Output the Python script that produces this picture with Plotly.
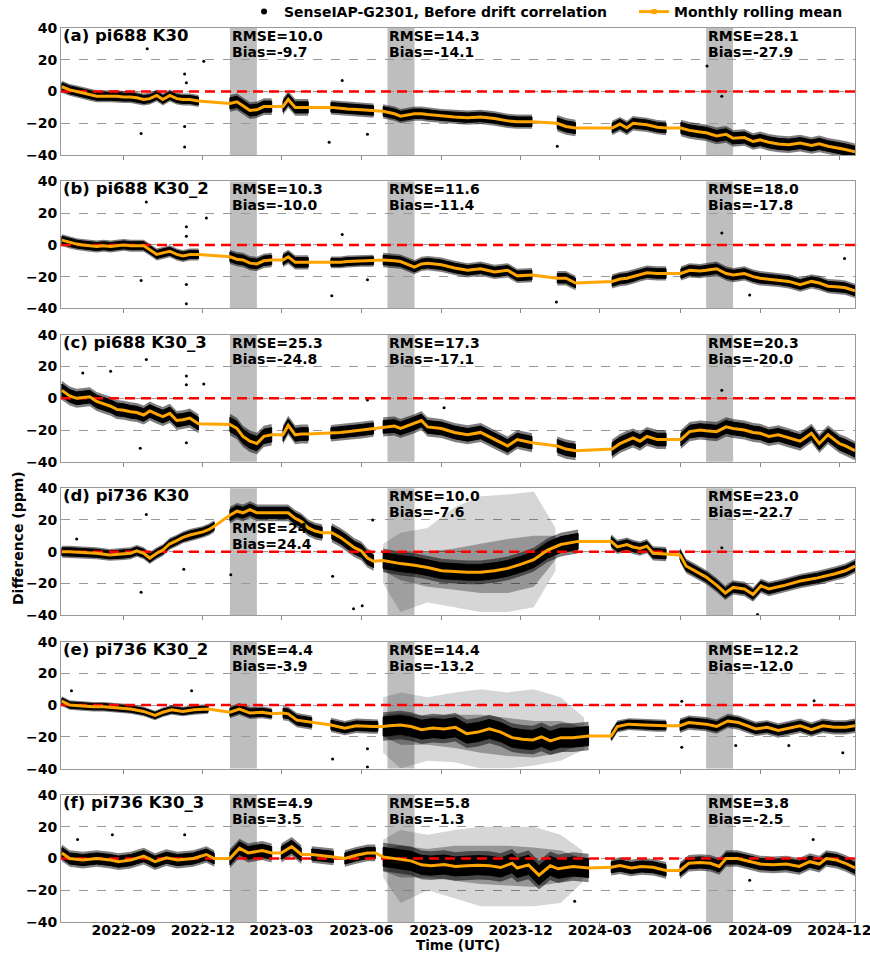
import plotly.graph_objects as go
from plotly.subplots import make_subplots

# ---------------- text / labels ----------------
panel_labels = ["(a) pi688 K30", "(b) pi688 K30_2", "(c) pi688 K30_3",
                "(d) pi736 K30", "(e) pi736 K30_2", "(f) pi736 K30_3"]
rmse_vals = [["10.0", "14.3", "28.1"], ["10.3", "11.6", "18.0"], ["25.3", "17.3", "20.3"],
             ["24", "10.0", "23.0"], ["4.4", "14.4", "12.2"], ["4.9", "5.8", "3.8"]]
bias_vals = [["-9.7", "-14.1", "-27.9"], ["-10.0", "-11.4", "-17.8"], ["-24.8", "-17.1", "-20.0"],
             ["24.4", "-7.6", "-22.7"], ["-3.9", "-13.2", "-12.0"], ["3.5", "-1.3", "-2.5"]]
shade_start = ["2023-01-01", "2023-07-01", "2024-07-01"]
shade_end = ["2023-02-01", "2023-08-01", "2024-08-01"]

# ---------------- pi688 sensors (a, b, c): data segments ----------------
g1_dates = [
    ["2022-06-22", "2022-07-01", "2022-07-09", "2022-07-16", "2022-07-24", "2022-08-01", "2022-08-09",
     "2022-08-17", "2022-08-24", "2022-09-01", "2022-09-09", "2022-09-16", "2022-09-24", "2022-10-01",
     "2022-10-09", "2022-10-16", "2022-10-24", "2022-11-01", "2022-11-08", "2022-11-16", "2022-11-26"],
    ["2023-01-01", "2023-01-09", "2023-01-16", "2023-01-24", "2023-02-01", "2023-02-09", "2023-02-18"],
    ["2023-03-03", "2023-03-09", "2023-03-17", "2023-03-24", "2023-04-01"],
    ["2023-04-27", "2023-05-08", "2023-05-16", "2023-06-01", "2023-06-15"],
    ["2023-06-26", "2023-07-09", "2023-07-16", "2023-08-01", "2023-08-09", "2023-08-16", "2023-09-01",
     "2023-09-16", "2023-10-01", "2023-10-16", "2023-11-01", "2023-11-16", "2023-11-27", "2023-12-14"],
    ["2024-01-12", "2024-01-22", "2024-02-02"],
    ["2024-03-15", "2024-03-24", "2024-04-01", "2024-04-08", "2024-04-16", "2024-04-24", "2024-05-06",
     "2024-05-16"],
    ["2024-06-02", "2024-06-12", "2024-06-24", "2024-07-01", "2024-07-13", "2024-07-24", "2024-08-01",
     "2024-08-14", "2024-08-24", "2024-09-01", "2024-09-11", "2024-09-22", "2024-10-04", "2024-10-17",
     "2024-10-30", "2024-11-08", "2024-11-18", "2024-12-01", "2024-12-08", "2024-12-19"],
]

a_mean = [
    [3, 1, 0, -1, -2, -3, -3, -3, -3, -3.5, -3.5, -4, -5, -4.5, -2.5, -5, -2.5, -4.5, -5, -5, -6],
    [-7.5, -6.5, -9, -12, -11.5, -9.5, -9.5],
    [-9.5, -5, -10, -10, -10],
    [-10, -10.5, -11, -11.5, -12],
    [-12.5, -14, -15.5, -14, -14, -14.5, -15.5, -16, -16.5, -16, -17, -18.5, -19, -19],
    [-20, -22, -23],
    [-23, -20.5, -23, -20, -20.5, -21, -22.5, -23],
    [-23, -24.5, -25.5, -26, -28, -27, -29.5, -29, -31.5, -30.5, -32, -33, -33.5, -32.5, -34, -33,
     -34.5, -35.7, -36.5, -38],
]
a_spread = [2.5, 3.5, 3.5, 3, 3, 3.5, 3, 3.5]
a_out_dates = ["2022-09-28", "2022-09-21", "2022-11-10", "2022-11-10", "2022-11-10", "2022-11-12",
               "2022-12-02", "2023-04-25", "2023-05-10", "2023-06-08", "2024-01-12", "2024-07-02",
               "2024-07-19"]
a_out_vals = [27, -26.5, -35, -22, 11, 5.5, 19, -32, 7, -27, -34.5, 16, -3]

b_mean = [
    [3, 1.5, 0.5, 0, -0.5, -1, -0.5, -1, -0.5, 0, -0.5, -0.5, -0.5, -3, -6, -5, -4, -6, -7, -6, -6],
    [-7.5, -9, -9.5, -11.5, -12, -10, -9.5],
    [-9.5, -7.5, -11, -11, -11],
    [-11, -11, -10.5, -10, -10],
    [-9.5, -10, -10.5, -14, -12, -11.5, -12.5, -14.5, -16, -15, -17, -16, -19.5, -19],
    [-21, -21, -24],
    [-23, -21.5, -21, -20, -18.5, -17.5, -18, -18],
    [-18, -16, -16.5, -16, -15, -18, -19, -18, -20, -21, -21.5, -22, -23, -25, -23, -24, -26, -26.5,
     -27, -29],
]
b_spread = [2.5, 3, 3, 2.5, 3, 3, 3, 3]
b_out_dates = ["2022-09-27", "2022-09-21", "2022-11-12", "2022-11-12", "2022-11-12", "2022-11-12",
               "2022-12-05", "2023-04-28", "2023-05-10", "2023-06-08", "2024-01-11", "2024-07-19",
               "2024-08-20", "2024-12-07"]
b_out_vals = [27, -22.5, 11.5, 5.5, -25, -37, 17, -32, 6.5, -22, -36, 7.5, -31.5, -8.5]

c_mean = [
    [5, 1.5, 0, 0.5, 1, -2, -3.5, -5, -7, -7.5, -8.5, -9, -10.5, -8, -10, -11.5, -9.5, -14, -13.5,
     -12.5, -16],
    [-16.5, -19, -24, -27, -28.5, -24, -23],
    [-23, -17, -23, -22.5, -22.5],
    [-22, -21.5, -21, -20, -19],
    [-18, -17.5, -19, -16, -14, -18, -19, -21.5, -23, -21.5, -26, -30, -26, -28],
    [-30, -32, -33],
    [-32, -28.5, -26.5, -25, -27, -24, -26, -26],
    [-26, -21, -20, -20.5, -21, -18, -19, -20, -21.5, -22, -24, -23, -25, -27, -22, -28.5, -23, -28.5,
     -30, -33],
]
c_spread = [4, 4.5, 4, 3.5, 4, 4, 4, 4]
c_out_dates = ["2022-07-16", "2022-08-17", "2022-09-20", "2022-09-27", "2022-11-12", "2022-11-12",
               "2022-11-12", "2022-12-02", "2023-06-08", "2023-09-04", "2024-07-19"]
c_out_vals = [16, 17, -31.5, 24.5, 14, 8.5, -28, 9, -1, -6, 5]

# ---------------- pi736 sensors (d, e, f) ----------------
d_dates = [
    ["2022-06-22", "2022-07-01", "2022-07-16", "2022-08-01", "2022-08-16", "2022-09-01", "2022-09-09",
     "2022-09-16", "2022-09-24", "2022-10-01", "2022-10-09", "2022-10-16", "2022-10-24", "2022-11-01",
     "2022-11-08", "2022-11-16", "2022-11-24", "2022-12-01", "2022-12-08", "2022-12-14"],
    ["2023-01-01", "2023-01-09", "2023-01-16", "2023-01-24", "2023-02-01", "2023-02-09", "2023-02-16",
     "2023-03-01", "2023-03-09", "2023-03-17", "2023-03-24", "2023-04-01", "2023-04-09", "2023-04-17"],
    ["2023-04-28", "2023-05-08", "2023-05-16", "2023-05-24", "2023-06-01", "2023-06-08", "2023-06-15"],
    ["2023-06-26", "2023-07-16", "2023-08-01", "2023-08-16", "2023-09-01", "2023-09-16", "2023-10-01",
     "2023-10-16", "2023-11-01", "2023-11-16", "2023-12-01", "2023-12-16", "2024-01-01", "2024-01-16",
     "2024-02-05"],
    ["2024-03-14", "2024-03-21", "2024-04-01", "2024-04-08", "2024-04-16", "2024-04-24", "2024-05-01",
     "2024-05-16"],
    ["2024-06-01", "2024-06-08", "2024-06-18", "2024-07-01", "2024-07-13", "2024-07-23", "2024-08-01",
     "2024-08-14", "2024-08-24", "2024-09-02", "2024-09-11", "2024-09-27", "2024-10-17", "2024-11-06",
     "2024-11-25", "2024-12-08", "2024-12-19"],
]
d_mean = [
    [0, 0, -0.5, -1, -2, -1.5, -1, 0.5, -1, -4, -1, 1, 5, 7, 9, 10.5, 11.5, 12.5, 14, 16],
    [23, 25.5, 24.5, 26.5, 24.5, 24.5, 24.5, 24.5, 24.5, 21, 19, 15, 13, 12],
    [12, 9, 6, 2.5, 0.5, -4, -6],
    [-5.5, -7.5, -8.5, -10, -12, -12.5, -13, -13, -12, -10.5, -8, -5, 1, 4.5, 6.5],
    [6.5, 3, 4.5, 3, 2, 3.5, -1, -1.5],
    [-2, -9, -12, -16, -21, -26, -22.5, -23.5, -27, -21.5, -23.5, -21.5, -18.5, -16.5, -14, -12, -9],
]
d_spread = [2.5, 3.5, 4, 5, 3, 3]
d_out_dates = ["2022-07-09", "2022-09-21", "2022-09-27", "2022-11-09", "2023-01-02", "2023-04-29",
               "2023-05-23", "2023-06-02", "2023-06-14", "2024-07-19", "2024-08-29"]
d_out_vals = [8, -25.5, 23.5, -11, -14.5, -15.5, -36, -34, 20, 2.5, -39.5]
d_sp_dates = ["2023-06-26", "2023-07-16", "2023-08-16", "2023-09-16", "2023-10-16", "2023-11-16",
              "2023-12-16", "2024-01-10"]
d_sp_lo = [-20, -38, -32, -35, -38, -38, -35, -12]
d_sp_hi = [5, 12, 15, 28, 35, 36, 38, 15]
d_md_lo = [-12, -18, -22, -24, -26, -26, -22, -5]
d_md_hi = [-2, 0, 0, 2, 5, 8, 10, 10]

e_dates = [
    ["2022-06-22", "2022-07-01", "2022-07-16", "2022-07-28", "2022-08-09", "2022-08-24", "2022-09-09",
     "2022-09-24", "2022-10-07", "2022-10-16", "2022-10-26", "2022-11-08", "2022-11-21", "2022-12-07"],
    ["2023-01-01", "2023-01-12", "2023-01-24", "2023-02-07", "2023-02-18"],
    ["2023-03-03", "2023-03-09", "2023-03-19", "2023-04-05"],
    ["2023-04-27", "2023-05-13", "2023-05-26", "2023-06-14", "2023-06-20"],
    ["2023-06-26", "2023-07-03", "2023-07-16", "2023-07-28", "2023-08-09", "2023-08-22", "2023-09-04",
     "2023-09-17", "2023-09-30", "2023-10-13", "2023-10-26", "2023-11-08", "2023-11-21", "2023-12-03",
     "2023-12-15", "2023-12-25", "2024-01-04", "2024-01-16", "2024-01-30", "2024-02-17"],
    ["2024-03-14", "2024-03-21", "2024-04-03", "2024-04-21", "2024-05-05", "2024-05-16"],
    ["2024-06-01", "2024-06-11", "2024-07-01", "2024-07-13", "2024-07-26", "2024-08-07", "2024-08-27",
     "2024-09-09", "2024-09-22", "2024-10-04", "2024-10-17", "2024-10-30", "2024-11-12", "2024-11-25",
     "2024-12-08", "2024-12-19"],
]
e_mean = [
    [2.5, 0, -0.5, -1, -1, -1.5, -2.5, -4, -6.5, -4.5, -3, -4, -3, -2.5],
    [-4.5, -2.5, -5, -4.5, -5.5],
    [-5, -5.5, -9.5, -11],
    [-12.5, -14.5, -13, -13.5, -13.5],
    [-13.5, -13, -12.5, -13.5, -15.5, -14.5, -15, -14, -18, -17, -15, -17, -20.5, -21.5, -22, -20,
     -22.5, -20.5, -20.5, -19.5],
    [-19.5, -13.5, -12, -12.5, -13, -13],
    [-13, -11, -12, -13.5, -10, -11, -15, -14, -16, -14.5, -13, -15.5, -13, -14, -14, -13],
]
e_spread = [2, 2.5, 3, 3, 6, 2.5, 3]
e_out_dates = ["2022-07-03", "2022-11-18", "2023-04-29", "2023-06-08", "2023-06-08", "2024-06-03",
               "2024-06-03", "2024-08-04", "2024-10-04", "2024-11-02", "2024-12-05"]
e_out_vals = [9, 9, -34, -27.5, -39, 2.5, -26.5, -25.5, -25.5, 2.7, -30]
e_sp_dates = ["2023-06-26", "2023-07-16", "2023-08-16", "2023-09-16", "2023-10-16", "2023-11-16",
              "2023-12-16", "2024-01-16", "2024-02-12"]
e_sp_lo = [-30, -40, -35, -36, -40, -40, -38, -35, -28]
e_sp_hi = [5, 8, 5, 8, 10, 8, 10, 5, -8]
e_md_lo = [-20, -25, -25, -27, -30, -32, -33, -30, -24]
e_md_hi = [-6, -5, -7, -6, -6, -8, -10, -10, -14]

f_dates = [
    ["2022-06-22", "2022-07-01", "2022-07-16", "2022-08-01", "2022-08-17", "2022-08-26", "2022-09-09",
     "2022-09-24", "2022-10-07", "2022-10-20", "2022-11-02", "2022-11-20", "2022-12-05", "2022-12-14"],
    ["2023-01-01", "2023-01-12", "2023-01-22", "2023-02-07", "2023-02-18"],
    ["2023-03-01", "2023-03-13", "2023-03-24"],
    ["2023-04-05", "2023-04-17", "2023-04-30"],
    ["2023-05-13", "2023-05-26", "2023-06-08", "2023-06-17"],
    ["2023-06-26", "2023-07-09", "2023-07-28", "2023-08-09", "2023-08-20", "2023-09-04", "2023-09-17",
     "2023-09-30", "2023-10-13", "2023-10-26", "2023-11-08", "2023-11-21", "2023-11-27", "2023-12-10",
     "2023-12-22", "2024-01-04", "2024-01-13", "2024-01-30", "2024-02-17"],
    ["2024-03-14", "2024-03-24", "2024-04-06", "2024-04-18", "2024-05-01", "2024-05-16"],
    ["2024-06-01", "2024-06-11", "2024-06-24", "2024-07-06", "2024-07-16", "2024-07-24", "2024-08-06",
     "2024-08-20", "2024-09-01", "2024-09-16", "2024-10-01", "2024-10-16", "2024-10-28", "2024-11-08",
     "2024-11-16", "2024-11-28", "2024-12-08", "2024-12-19"],
]
f_mean = [
    [3.5, 0, -1, 0, -1, -2, -1, 1.5, -2, 0.5, -1, 0, 2.5, 0],
    [0, 6.5, 3.5, 5, 3.5],
    [3.5, 7.5, 2.5],
    [2.5, 2, 1],
    [0, 2, 3.5, 3.5],
    [1, 0, -1.5, -4, -4.5, -3.8, -5, -4.5, -4.2, -4.5, -5.7, -3, -6, -4, -10.5, -4.6, -6.5, -5, -6],
    [-5.5, -4.5, -6, -5, -5.5, -7.5],
    [-7.5, -3, -2.5, -3, -5, 0, 0, -2, -3.5, -4, -3.5, -5, -2, -3.5, 0, -1, -3, -6],
]
f_spread = [3.5, 4, 4, 3.5, 3.5, 6, 3.5, 3.5]
f_out_dates = ["2022-07-10", "2022-08-19", "2022-11-10", "2024-02-01", "2024-08-20", "2024-11-01"]
f_out_vals = [12, 15, 15, -27, -13.7, 12]
f_sp_dates = ["2023-06-26", "2023-07-16", "2023-08-16", "2023-09-16", "2023-10-16", "2023-11-16",
              "2023-12-16", "2024-01-16", "2024-02-10"]
f_sp_lo = [-12, -28, -20, -25, -30, -30, -30, -28, -15]
f_sp_hi = [12, 18, 15, 18, 20, 20, 20, 15, 5]
f_md_lo = [-8, -12, -12, -14, -16, -17, -18, -15, -10]
f_md_hi = [6, 8, 6, 8, 8, 8, 7, 5, 0]

# ---------------- assemble ----------------
panels = [
    dict(dates=g1_dates, mean=a_mean, spread=a_spread, od=a_out_dates, ov=a_out_vals, sp=None),
    dict(dates=g1_dates, mean=b_mean, spread=b_spread, od=b_out_dates, ov=b_out_vals, sp=None),
    dict(dates=g1_dates, mean=c_mean, spread=c_spread, od=c_out_dates, ov=c_out_vals, sp=None),
    dict(dates=d_dates, mean=d_mean, spread=d_spread, od=d_out_dates, ov=d_out_vals,
         sp=(d_sp_dates, d_sp_lo, d_sp_hi, d_md_lo, d_md_hi)),
    dict(dates=e_dates, mean=e_mean, spread=e_spread, od=e_out_dates, ov=e_out_vals,
         sp=(e_sp_dates, e_sp_lo, e_sp_hi, e_md_lo, e_md_hi)),
    dict(dates=f_dates, mean=f_mean, spread=f_spread, od=f_out_dates, ov=f_out_vals,
         sp=(f_sp_dates, f_sp_lo, f_sp_hi, f_md_lo, f_md_hi)),
]

FONT = "DejaVu Sans"
ORANGE = "#FFA500"
XR = ["2022-06-21", "2024-12-19"]

fig = make_subplots(rows=6, cols=1, shared_xaxes=True, vertical_spacing=0.02953)


def band_xy(dates, means, spreads, k):
    xs, ys = [], []
    for seg_d, seg_m, s in zip(dates, means, spreads):
        hi = [m + s * k for m in seg_m]
        lo = [m - s * k for m in seg_m]
        xs += seg_d + seg_d[::-1] + [seg_d[0], None]
        ys += hi + lo[::-1] + [hi[0], None]
    return xs, ys


for i, p in enumerate(panels):
    r = i + 1
    if p["sp"] is not None:
        sd, slo, shi, mlo, mhi = p["sp"]
        fig.add_trace(go.Scatter(x=sd + sd[::-1], y=shi + slo[::-1], fill="toself",
                                 fillcolor="rgba(0,0,0,0.16)", line=dict(width=0),
                                 mode="lines", showlegend=False, hoverinfo="skip"), row=r, col=1)
        fig.add_trace(go.Scatter(x=sd + sd[::-1], y=mhi + mlo[::-1], fill="toself",
                                 fillcolor="rgba(0,0,0,0.3)", line=dict(width=0),
                                 mode="lines", showlegend=False, hoverinfo="skip"), row=r, col=1)
    hx, hy = band_xy(p["dates"], p["mean"], p["spread"], 1.5)
    fig.add_trace(go.Scatter(x=hx, y=hy, fill="toself", fillcolor="rgba(0,0,0,0.5)",
                             line=dict(width=0), mode="lines", showlegend=False,
                             hoverinfo="skip"), row=r, col=1)
    bx, by = band_xy(p["dates"], p["mean"], p["spread"], 1.0)
    fig.add_trace(go.Scatter(x=bx, y=by, fill="toself", fillcolor="black",
                             line=dict(width=1, color="black"), mode="lines", showlegend=False,
                             hoverinfo="skip"), row=r, col=1)
    fig.add_trace(go.Scatter(x=p["od"], y=p["ov"], mode="markers",
                             marker=dict(size=3, color="black"), showlegend=False), row=r, col=1)
    # zero reference line
    fig.add_trace(go.Scatter(x=XR, y=[0, 0], mode="lines",
                             line=dict(color="red", width=2.5, dash="10px,6px"),
                             showlegend=False, hoverinfo="skip"), row=r, col=1)
    mx = [d for seg in p["dates"] for d in seg]
    my = [v for seg in p["mean"] for v in seg]
    fig.add_trace(go.Scatter(x=mx, y=my, mode="lines", line=dict(color=ORANGE, width=3),
                             showlegend=False), row=r, col=1)

    xn = "" if r == 1 else str(r)
    for s0, s1 in zip(shade_start, shade_end):
        fig.add_shape(type="rect", xref="x" + xn, yref="y" + xn + " domain", x0=s0, x1=s1,
                      y0=0, y1=1, fillcolor="#BEBEBE", line=dict(width=0), layer="below")

    fig.add_annotation(xref="x" + xn + " domain", yref="y" + xn + " domain", x=0.0, y=1,
                       xanchor="left", yanchor="top", xshift=0, yshift=4, showarrow=False,
                       text=panel_labels[i], font=dict(family=FONT, size=16.5, color="black",
                                                       weight="bold"))
    for j, s0 in enumerate(shade_start):
        ys1, ys2 = 2, -14
        if i == 3 and j == 0:
            ys1, ys2 = -30, -46
        fig.add_annotation(xref="x" + xn, yref="y" + xn + " domain", x=s0, y=1, xanchor="left",
                           yanchor="top", yshift=ys1, showarrow=False,
                           text="RMSE=" + rmse_vals[i][j],
                           font=dict(family=FONT, size=14, color="black", weight="bold"))
        fig.add_annotation(xref="x" + xn, yref="y" + xn + " domain", x=s0, y=1, xanchor="left",
                           yanchor="top", yshift=ys2, showarrow=False,
                           text="Bias=" + bias_vals[i][j],
                           font=dict(family=FONT, size=14, color="black", weight="bold"))

# legend entries
fig.add_trace(go.Scatter(x=[None], y=[None], mode="markers", marker=dict(color="black", size=6),
                         name="SenseIAP-G2301, Before drift correlation"), row=1, col=1)
fig.add_trace(go.Scatter(x=[None], y=[None], mode="lines+markers",
                         line=dict(color=ORANGE, width=3),
                         marker=dict(color=ORANGE, size=5, symbol="square"),
                         name="Monthly rolling mean"), row=1, col=1)

fig.update_xaxes(range=XR, showgrid=False, ticks="outside", ticklen=4, tickcolor="#888888",
                 dtick="M3", tick0="2022-09-01", tickformat="%Y-%m", showline=True,
                 linecolor="#999999", linewidth=1, mirror=True, automargin=False,
                 ticklabeloverflow="allow", ticklabelstandoff=-9,
                 tickfont=dict(family=FONT, size=14, color="black", weight="bold"))
fig.update_yaxes(range=[-40, 40], tickvals=[-40, -20, 0, 20, 40], showgrid=True,
                 gridcolor="#999999", griddash="dash", gridwidth=1, zeroline=False,
                 showline=True, linecolor="#999999", linewidth=1, mirror=True, ticks="",
                 automargin=False,
                 tickfont=dict(family=FONT, size=14, color="black", weight="bold"))

fig.add_annotation(xref="paper", yref="paper", x=0, y=0.4295, xshift=-43, textangle=-90,
                   xanchor="center", yanchor="middle",
                   showarrow=False, text="Difference (ppm)",
                   font=dict(family=FONT, size=14, color="black", weight="bold"))
fig.add_annotation(xref="paper", yref="paper", x=0.5, y=0, yshift=-23, yanchor="middle",
                   showarrow=False, text="Time (UTC)",
                   font=dict(family=FONT, size=13.5, color="black", weight="bold"))

fig.update_layout(
    width=870, height=953,
    margin=dict(l=61, r=15, t=28, b=31, autoexpand=False),
    paper_bgcolor="white", plot_bgcolor="white",
    font=dict(family=FONT, color="black"),
    legend=dict(orientation="h", xref="container", yref="container", x=0.2805, y=0.9874,
                xanchor="left", yanchor="middle", entrywidth=345, entrywidthmode="pixels",
                font=dict(family=FONT, size=14, color="black", weight="bold"),
                bgcolor="rgba(0,0,0,0)", itemwidth=30),
)

fig.write_html("out.html", config={"displayModeBar": False},
               post_script="document.body.style.margin='0px';")
